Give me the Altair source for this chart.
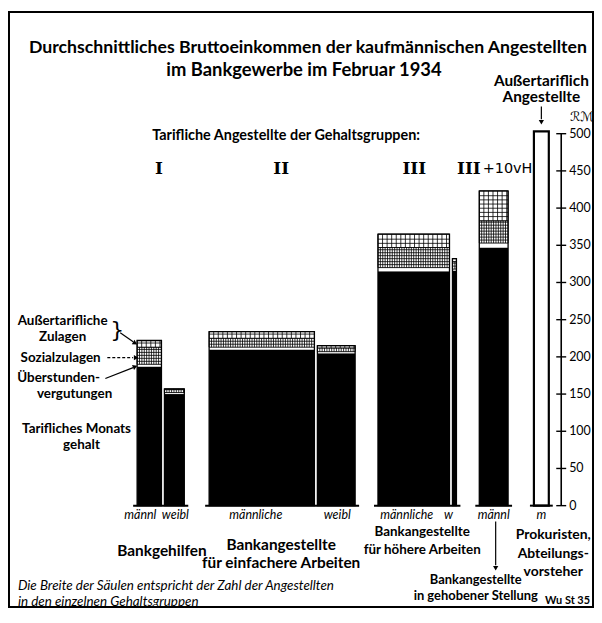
import altair as alt
import pandas as pd

# ---------------- data ----------------
gruppe = ["I", "I", "II", "II", "III", "III", "III+10vH", "außertariflich"]
geschlecht = ["männl", "weibl", "männliche", "weibl", "männliche", "w", "männl", "m"]
breite = [24.5, 20, 106, 38, 72, 4, 29, 15]          # Zahl der Angestellten (relativ)
tarif = [187, 150, 210, 205, 315, 316, 347]           # Tarifliches Monatsgehalt
ueberstunden = [3, 2, 3, 2, 5, 2, 6]                  # Überstundenvergütungen
sozialzulagen = [23, 4, 12, 5, 27, 10, 30]            # Sozialzulagen
aussertarif_zulagen = [9, 1, 9, 3, 18, 4, 40]         # Außertarifliche Zulagen
aussertariflich_gesamt = 503                          # Prokuristen, Abteilungsvorsteher
achsen_werte = [0, 50, 100, 150, 200, 250, 300, 350, 400, 450, 500]

# ---------------- layout ----------------
LUECKE = [0, 3, 25, 3, 23, 3, 23, 26]   # space before each column
W, H = 437, 374.5
OX, OY = 128, 132.5                    # page position of plot origin
RM_PER_PX = 500 / H
SANS = "Lato, Roboto, 'Liberation Sans', sans-serif"
OBL = "'DejaVu Sans', sans-serif"
SERIF = "'DejaVu Serif', 'Liberation Serif', serif"

xs = alt.Scale(domain=[-10, W - 10], nice=False, zero=False)
ys = alt.Scale(domain=[0, 500], nice=False, zero=True)

pos = []
x = 0.0
for i, b in enumerate(breite):
    x += LUECKE[i]
    pos.append((x, x + b))
    x += b

seg_rows, hatch_rows, outline_rows = [], [], []


def hatch(x0, x1, y0, y1, dx, dy_px):
    dy = dy_px * RM_PER_PX
    gx = x0 + dx
    while gx < x1 - 0.6:
        hatch_rows.append(dict(a=gx, a2=gx, b=y0, b2=y1))
        gx += dx
    gy = y0 + dy
    while gy < y1 - 0.4 * dy:
        hatch_rows.append(dict(a=x0, a2=x1, b=gy, b2=gy))
        gy += dy


for i in range(len(tarif)):
    x0, x1 = pos[i]
    y = 0
    seg_rows.append(dict(x0=x0, x1=x1, y0=y, y1=y + tarif[i], art="tarif"))
    y += tarif[i]
    seg_rows.append(dict(x0=x0, x1=x1, y0=y, y1=y + ueberstunden[i], art="ueber"))
    y += ueberstunden[i]
    seg_rows.append(dict(x0=x0, x1=x1, y0=y, y1=y + sozialzulagen[i], art="sozial"))
    hatch(x0, x1, y, y + sozialzulagen[i], 2.4, 3.0)
    y += sozialzulagen[i]
    seg_rows.append(dict(x0=x0, x1=x1, y0=y, y1=y + aussertarif_zulagen[i], art="ausser"))
    hatch(x0, x1, y, y + aussertarif_zulagen[i], 4.6, 4.2)
    y += aussertarif_zulagen[i]
    outline_rows.append(dict(x0=x0, x1=x1, y0=0, y1=y))

seg = pd.DataFrame(seg_rows)
hat = pd.DataFrame(hatch_rows)
outl = pd.DataFrame(outline_rows)
at = pd.DataFrame([dict(x0=pos[7][0], x1=pos[7][1], y0=0, y1=aussertariflich_gesamt)])

grp_idx = [[0, 1], [2, 3], [4, 5], [6], [7]]
ground = pd.DataFrame([dict(g0=pos[g[0]][0] - 4, g1=pos[g[-1]][1] + 4, gy=0) for g in grp_idx])

X = alt.X("x0:Q", scale=xs, axis=None)
Yn = alt.Y("y0:Q", scale=ys, axis=None)

# value axis (RM) on the right, drawn from the y scale
ticks_df = pd.DataFrame({"w": achsen_werte})
dom_l = alt.Chart(pd.DataFrame({"lo": [min(achsen_werte)], "hi": [max(achsen_werte)]})).mark_rule(
    color="black", strokeWidth=1.6).encode(x=alt.value(W), y=alt.Y("lo:Q", scale=ys, axis=None), y2="hi:Q")
tick_l = alt.Chart(ticks_df).mark_rule(color="black", strokeWidth=1.4).encode(
    x=alt.value(W - 5), x2=alt.value(W + 5), y=alt.Y("w:Q", scale=ys, axis=None))
lab_l = alt.Chart(ticks_df).mark_text(align="left", baseline="middle", fontSize=12.5, font=SANS,
                                      color="black").encode(
    x=alt.value(W + 8), y=alt.Y("w:Q", scale=ys, axis=None), text=alt.Text("w:Q"))

tarif_l = alt.Chart(seg[seg.art == "tarif"]).mark_rect(color="black").encode(x=X, x2="x1:Q", y=Yn, y2="y1:Q")
ueber_l = alt.Chart(seg[seg.art == "ueber"]).mark_rect(color="white").encode(x=X, x2="x1:Q", y=Yn, y2="y1:Q")
hat_seg_l = alt.Chart(seg[seg.art.isin(["sozial", "ausser"])]).mark_rect(
    fill="white", stroke="black", strokeWidth=0.9).encode(x=X, x2="x1:Q", y=Yn, y2="y1:Q")
hat_l = alt.Chart(hat).mark_rule(color="black", strokeWidth=0.8).encode(
    x=alt.X("a:Q", scale=xs, axis=None), x2="a2:Q",
    y=alt.Y("b:Q", scale=ys, axis=None), y2="b2:Q")
outl_l = alt.Chart(outl).mark_rect(fillOpacity=0, stroke="black", strokeWidth=1.3).encode(
    x=X, x2="x1:Q", y=Yn, y2="y1:Q")
at_l = alt.Chart(at).mark_rect(fill="white", stroke="black", strokeWidth=2.2).encode(
    x=X, x2="x1:Q", y=Yn, y2="y1:Q")
ground_l = alt.Chart(ground).mark_rule(color="black", strokeWidth=2).encode(
    x=alt.X("g0:Q", scale=xs, axis=None), x2="g1:Q", y=alt.Y("gy:Q", scale=ys, axis=None))

ONE = pd.DataFrame({"k": [0]})


def texte(rows, size, font=SANS, weight="normal", style="normal", align="center"):
    out = []
    for t, px, py in rows:
        out.append(alt.Chart(ONE).mark_text(
            fontSize=size, font=font, fontWeight=weight, fontStyle=style, align=align,
            baseline="middle", color="black").encode(
            x=alt.value(px - OX), y=alt.value(py - OY), text=alt.value(t)))
    return out


def linien(rows, width=1.2, dash=None):
    out = []
    kw = dict(color="black", strokeWidth=width)
    if dash:
        kw["strokeDash"] = dash
    for a, b, c, d in rows:
        out.append(alt.Chart(ONE).mark_rule(**kw).encode(
            x=alt.value(a - OX), y=alt.value(b - OY), x2=alt.value(c - OX), y2=alt.value(d - OY)))
    return out


def spitzen(rows):
    out = []
    for a, b, ang in rows:
        out.append(alt.Chart(ONE).mark_point(shape="triangle-up", filled=True, size=28,
                                             color="black", opacity=1).encode(
            x=alt.value(a - OX), y=alt.value(b - OY), angle=alt.value(ang)))
    return out


frame_l = alt.Chart(ONE).mark_rect(fillOpacity=0, stroke="black", strokeWidth=2).encode(
    x=alt.value(9 - OX), x2=alt.value(597 - OX), y=alt.value(10 - OY), y2=alt.value(609 - OY))

mitte = [(a + b) / 2 + OX + 10 for a, b in pos]
sub_dx = [-9, 1, -6, 1, -7, -6, 0, 0]
sub = [(geschlecht[i], mitte[i] + sub_dx[i], 516) for i in range(8)]

layers = [frame_l, tarif_l, ueber_l, hat_seg_l, hat_l, outl_l, at_l, ground_l, dom_l, tick_l, lab_l]
layers += texte([("Durchschnittliches Bruttoeinkommen der kaufmännischen Angestellten", 310, 46)],
                17.8, weight="bold")
layers += texte([("im Bankgewerbe im Februar 1934", 306, 68)], 18.5, weight="bold")
layers += texte([("Außertariflich", 545, 79), ("Angestellte", 545, 96)], 15.5, weight="bold")
layers += texte([("Tarifliche Angestellte der Gehaltsgruppen:", 288, 135)], 14.5, weight="bold")
layers += texte([("I", 160, 168), ("II", 283, 168), ("III", 417, 168), ("III", 472, 168)], 17,
                font=SERIF, weight="bold")
layers += texte([("+10vH", 511, 168)], 14.5, font=OBL)
layers += texte([("ℛℳ", 586, 116)], 13, font=OBL, style="italic")
layers += texte(sub, 12.5, style="italic")
layers += texte([("Bankgehilfen", 163, 553)], 15.5, weight="bold")
layers += texte([("Bankangestellte", 283, 547), ("für einfachere Arbeiten", 283, 565)], 15.5, weight="bold")
layers += texte([("Bankangestellte", 425, 534), ("für höhere Arbeiten", 425, 552)], 13.5, weight="bold")
layers += texte([("Prokuristen,", 557, 537), ("Abteilungs-", 557, 556), ("vorsteher", 557, 574)],
                14, weight="bold")
layers += texte([("Bankangestellte", 479, 582), ("in gehobener Stellung", 479, 598)], 13, weight="bold")
layers += texte([("Außertarifliche", 63, 321), ("Zulagen", 63, 337), ("Sozialzulagen", 61, 358),
                 ("Überstunden-", 59, 379), ("vergutungen", 75, 395),
                 ("Tarifliches Monats", 77, 430), ("gehalt", 82, 446)], 13.5, weight="bold")
layers += texte([("}", 118, 330)], 22, font=OBL)
layers += texte([("Die Breite der Säulen entspricht  der Zahl der Angestellten", 18, 588),
                 ("in den einzelnen Gehaltsgruppen", 18, 604)], 13.5, style="italic", align="left")
layers += texte([("Wu St 35", 594, 603)], 11, weight="bold", align="right")
layers += linien([(121, 333, 134, 342), (106, 379, 134, 368), (499, 523, 499, 567), (545, 105, 545, 118)])
layers += linien([(108, 358, 134, 358)], dash=[3, 2])
layers += spitzen([(136, 343.5, 121), (137, 358, 90), (136, 367, 67), (499, 570, 180), (545, 121, 180)])

chart = alt.layer(*layers).properties(
    width=W, height=H,
    padding={"left": OX - 8, "top": OY - 8, "right": 590 - (OX - 8) - W, "bottom": 602 - (OY - 8) - H},
    autosize=alt.AutoSizeParams(type="none"),
).configure_view(stroke=None)

chart.save("out.html", embed_options={"renderer": "svg", "actions": False})
